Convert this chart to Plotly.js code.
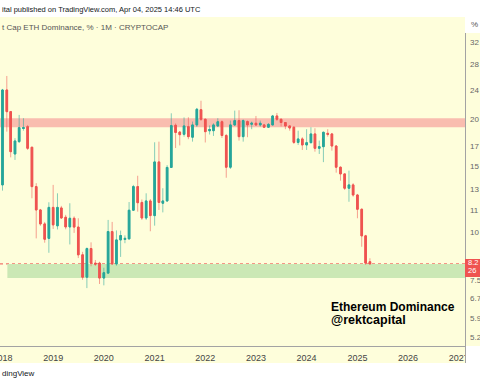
<!DOCTYPE html>
<html>
<head>
<meta charset="utf-8">
<script src="https://cdn.plot.ly/plotly-3.0.1.min.js"></script>
<style>html,body{margin:0;padding:0;background:#fff;}#chart{width:480px;height:384px;}</style>
</head>
<body>
<div id="chart"></div>
<script>
// Monthly candles, CRYPTOCAP:ETH.D (ETH dominance, %)
const months = [
 "2018-01-01","2018-02-01","2018-03-01","2018-04-01","2018-05-01","2018-06-01","2018-07-01","2018-08-01","2018-09-01","2018-10-01","2018-11-01","2018-12-01",
 "2019-01-01","2019-02-01","2019-03-01","2019-04-01","2019-05-01","2019-06-01","2019-07-01","2019-08-01","2019-09-01","2019-10-01","2019-11-01","2019-12-01",
 "2020-01-01","2020-02-01","2020-03-01","2020-04-01","2020-05-01","2020-06-01","2020-07-01","2020-08-01","2020-09-01","2020-10-01","2020-11-01","2020-12-01",
 "2021-01-01","2021-02-01","2021-03-01","2021-04-01","2021-05-01","2021-06-01","2021-07-01","2021-08-01","2021-09-01","2021-10-01","2021-11-01","2021-12-01",
 "2022-01-01","2022-02-01","2022-03-01","2022-04-01","2022-05-01","2022-06-01","2022-07-01","2022-08-01","2022-09-01","2022-10-01","2022-11-01","2022-12-01",
 "2023-01-01","2023-02-01","2023-03-01","2023-04-01","2023-05-01","2023-06-01","2023-07-01","2023-08-01","2023-09-01","2023-10-01","2023-11-01","2023-12-01",
 "2024-01-01","2024-02-01","2024-03-01","2024-04-01","2024-05-01","2024-06-01","2024-07-01","2024-08-01","2024-09-01","2024-10-01","2024-11-01","2024-12-01",
 "2025-01-01","2025-02-01","2025-03-01","2025-04-01"
];
const openVals = [
 13.28,23.84,20.86,16.07,17.34,18.80,19.02,16.75,13.14,11.38,10.44,9.55,
 11.56,10.32,11.52,10.88,10.25,10.81,10.24,8.63,7.52,8.97,8.20,8.20,
 7.48,7.71,9.96,8.16,9.46,9.49,9.52,11.36,13.14,11.92,10.83,12.03,
 10.99,15.30,11.86,12.03,14.79,19.18,18.39,18.14,19.02,17.82,19.22,21.11,
 19.90,18.54,18.55,19.10,19.60,18.01,14.81,19.22,19.74,17.88,19.62,19.30,
 19.42,19.22,19.22,18.95,19.22,20.31,19.90,19.51,19.10,18.95,17.26,17.63,
 16.99,17.23,18.18,16.64,16.81,18.25,18.18,16.88,14.81,14.21,13.01,13.28,
 12.48,11.43,9.70,8.27
];
const highVals = [
 24.00,25.99,20.95,17.71,20.44,20.03,19.22,16.80,13.42,11.45,10.57,11.93,
 13.28,12.61,11.67,11.04,11.86,10.94,10.81,8.79,9.03,9.32,8.36,8.27,
 7.97,10.70,10.57,10.03,10.02,9.73,11.95,13.28,14.05,12.14,12.61,12.17,
 17.27,17.34,13.01,15.00,20.65,19.40,18.50,20.13,20.15,19.62,21.34,22.31,
 20.00,19.16,19.42,20.03,19.76,18.18,19.74,20.99,21.04,19.88,19.76,19.62,
 20.31,19.74,19.34,19.45,20.44,20.69,20.00,19.56,19.16,19.04,18.55,17.82,
 18.72,18.95,18.83,17.45,18.44,18.72,18.29,16.94,14.88,14.25,14.50,13.42,
 12.56,11.48,9.76,8.45
];
const lowVals = [
 12.82,18.44,15.74,15.49,17.20,18.55,16.47,12.23,9.55,10.32,9.30,8.74,
 10.12,10.09,10.77,10.10,9.20,9.88,8.46,7.40,7.03,8.04,8.06,7.21,
 7.15,7.68,8.11,8.07,8.52,9.27,9.49,11.33,11.26,10.70,10.70,9.98,
 10.33,11.38,11.21,11.96,14.74,16.67,16.94,17.88,17.60,17.34,18.98,19.70,
 17.25,18.12,17.96,18.98,17.74,13.88,14.65,19.10,17.45,17.34,17.82,18.72,
 19.10,19.02,18.86,18.86,19.16,19.70,19.04,18.72,18.55,17.09,16.99,16.47,
 16.47,17.15,16.30,16.07,15.28,17.88,16.40,14.32,13.63,12.87,11.97,12.35,
 10.81,9.07,8.11,8.13
];
const closeVals = [
 23.84,20.86,16.30,17.41,18.90,18.90,16.64,13.14,11.38,10.44,9.50,11.56,
 10.38,11.56,10.83,10.25,10.81,10.24,8.63,7.52,8.97,8.20,8.15,7.48,
 7.73,9.96,8.16,9.46,9.72,9.55,11.36,13.14,11.90,10.83,12.03,10.99,
 15.30,11.92,12.03,14.79,19.14,18.35,18.10,19.10,17.88,19.22,21.17,19.90,
 18.44,18.69,19.22,19.60,18.01,14.81,19.22,19.74,17.88,19.74,19.22,19.42,
 19.22,19.42,18.95,19.28,20.31,19.90,19.51,19.10,18.86,17.26,17.63,16.99,
 17.23,18.18,16.64,16.81,18.37,18.14,16.88,14.81,14.21,13.01,13.28,12.48,
 11.43,9.70,8.20,8.16
];
// Zones drawn on the chart (% levels)
const resistanceZone = [18.95, 20.03];
const supportZone = [7.48, 8.16];
// Axis ticks
const yearTickVals = ["2018-01-01","2019-01-01","2020-01-01","2021-01-01","2022-01-01","2023-01-01","2024-01-01","2025-01-01","2026-01-01","2027-01-01"];
const yearTickLabels = ["2018","2019","2020","2021","2022","2023","2024","2025","2026","2027"];
const yTickVals = [32.0, 28.03, 23.84, 19.94, 16.89, 14.93, 12.95, 11.38, 9.90, 7.40, 6.62, 5.85, 5.20];
const yTickLabels = ["32","28","24","20","17","15","13","11","10","7.5","6.7","5.9","5.2"];

const UP = "#26a69a", DOWN = "#ef5350";
const UP_W = "rgba(38,166,154,0.55)", DOWN_W = "rgba(239,83,80,0.55)";
const BG = "#fefedb";
const FONT = "Liberation Sans, Arial, sans-serif";

const bodyHigh = openVals.map((o, i) => Math.max(o, closeVals[i]));
const bodyLow = openVals.map((o, i) => Math.min(o, closeVals[i]));
const lastClose = closeVals[closeVals.length - 1];

const wicks = {
  type: "candlestick", x: months, open: openVals, high: highVals, low: lowVals, close: closeVals,
  increasing: {line: {color: UP_W, width: 1}, fillcolor: UP_W},
  decreasing: {line: {color: DOWN_W, width: 1}, fillcolor: DOWN_W},
  whiskerwidth: 0, hoverinfo: "skip", showlegend: false
};
const bodies = {
  type: "candlestick", x: months, open: openVals, high: bodyHigh, low: bodyLow, close: closeVals,
  increasing: {line: {color: UP, width: 1}, fillcolor: UP},
  decreasing: {line: {color: DOWN, width: 1}, fillcolor: DOWN},
  whiskerwidth: 0, hoverinfo: "skip", showlegend: false
};

const layout = {
  width: 480, height: 384,
  margin: {l: 0, r: 15, t: 17, b: 38, pad: 0},
  paper_bgcolor: BG, plot_bgcolor: BG,
  boxgap: 0.4,
  showlegend: false,
  font: {family: FONT},
  xaxis: {
    type: "date", range: ["2017-12-14", "2027-02-15"],
    rangeslider: {visible: false},
    tickmode: "array", tickvals: yearTickVals, ticktext: yearTickLabels,
    ticks: "", showgrid: false, zeroline: false,
    showline: true, linecolor: "#a3a3a3", linewidth: 1,
    tickfont: {size: 9, color: "#444", family: FONT},
    ticklabeloverflow: "allow", ticklabelstandoff: 3
  },
  yaxis: {
    type: "log", side: "right", range: [0.6919, 1.5727],
    tickmode: "array", tickvals: yTickVals, ticktext: yTickLabels,
    ticks: "", showgrid: false, zeroline: false, showline: false,
    tickfont: {size: 8, color: "#666", family: FONT},
    ticklabeloverflow: "allow", ticklabelstandoff: 4
  },
  shapes: [
    {type: "rect", xref: "paper", yref: "paper", x0: -0.01, x1: 1.05, y0: 1, y1: 1.07, fillcolor: "#fff", line: {width: 0}, layer: "below"},
    {type: "rect", xref: "paper", yref: "paper", x0: 1.0, x1: 1.05, y0: 0.9514, y1: 1.0, fillcolor: "#fff", line: {width: 0}, layer: "below"},
    {type: "rect", xref: "paper", yref: "paper", x0: -0.01, x1: 1.05, y0: -0.13, y1: -0.0517, fillcolor: "#fff", line: {width: 0}, layer: "below"},
    {type: "rect", xref: "paper", yref: "y", x0: 0, x1: 1, y0: resistanceZone[0], y1: resistanceZone[1], fillcolor: "#f9bdaf", line: {width: 0}, layer: "below"},
    {type: "rect", xref: "x", yref: "y", x0: "2018-02-05", x1: "2027-02-15", y0: supportZone[0], y1: supportZone[1], fillcolor: "#cbe8b5", line: {width: 0}, layer: "below"},
    {type: "line", xref: "paper", yref: "y", x0: 0, x1: 1, y0: lastClose, y1: lastClose, line: {color: DOWN, width: 1, dash: "dot"}, layer: "below"},
    {type: "rect", xref: "paper", yref: "paper", x0: 1.0022, x1: 1.05, y0: -0.0517, y1: 0, fillcolor: "#fff", line: {width: 0}, layer: "above"},
    {type: "line", xref: "paper", yref: "paper", x0: 1.0011, x1: 1.0011, y0: -0.0517, y1: 0.9514, line: {color: "#a3a3a3", width: 1}, layer: "above"},
    {type: "rect", xref: "paper", yref: "paper", x0: 1.0, x1: 1.05, y0: 0.2097, y1: 0.2644, fillcolor: DOWN, line: {width: 0}, layer: "above"}
  ],
  annotations: [
    {xref: "paper", yref: "paper", x: 0, y: 1.0213, xanchor: "left", yanchor: "middle", showarrow: false,
     text: "ital published on TradingView.com, Apr 04, 2025 14:46 UTC", font: {size: 7.5, color: "#131722", family: FONT}},
    {xref: "paper", yref: "paper", x: 0, y: 0.9696, xanchor: "left", yanchor: "middle", showarrow: false,
     text: "t Cap ETH Dominance, % · 1M · CRYPTOCAP", font: {size: 8, color: "#555", family: FONT}},
    {xref: "paper", yref: "paper", x: 1.0194, y: 0.9787, xanchor: "center", yanchor: "middle", showarrow: false,
     text: "%", font: {size: 8, color: "#555", family: FONT}},
    {xref: "paper", yref: "paper", x: 0.7075, y: 0.1185, xanchor: "left", yanchor: "middle", showarrow: false,
     text: "Ethereum Dominance", font: {size: 12, color: "#000", family: FONT, weight: "bold"}},
    {xref: "paper", yref: "paper", x: 0.7075, y: 0.0805, xanchor: "left", yanchor: "middle", showarrow: false,
     text: "@rektcapital", font: {size: 12.5, color: "#000", family: FONT, weight: "bold"}},
    {xref: "paper", yref: "paper", x: 1.0032, y: 0.2538, xanchor: "left", yanchor: "middle", showarrow: false,
     text: "8.2", font: {size: 7.5, color: "#fff", family: FONT}},
    {xref: "paper", yref: "paper", x: 1.0032, y: 0.228, xanchor: "left", yanchor: "middle", showarrow: false,
     text: "26", font: {size: 7.5, color: "#fff", family: FONT}},
    {xref: "paper", yref: "paper", x: 0, y: -0.0821, xanchor: "left", yanchor: "middle", showarrow: false,
     text: "dingView", font: {size: 8, color: "#131722", family: FONT}}
  ]
};

Plotly.newPlot("chart", [wicks, bodies], layout, {staticPlot: true, displayModeBar: false});
</script>
</body>
</html>
